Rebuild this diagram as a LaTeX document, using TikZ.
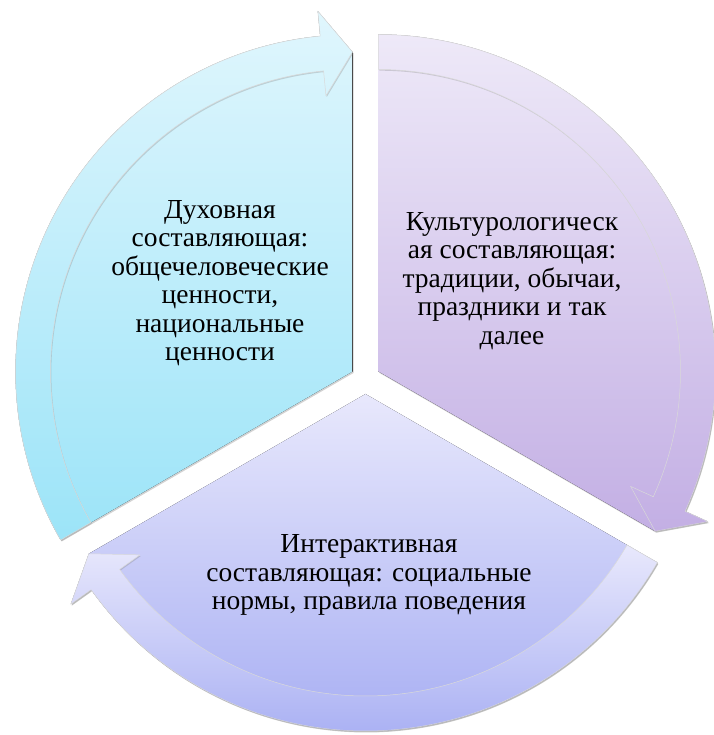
\documentclass[tikz,border=0pt]{standalone}
\usepackage{fontspec}
\setmainfont{Liberation Serif}
\usetikzlibrary{calc, math, shadows}
\definecolor{cyanTop}{HTML}{E0F6FD}
\definecolor{cyanBot}{HTML}{9CE4F8}
\definecolor{lilacTop}{HTML}{EEE9F8}
\definecolor{lilacBot}{HTML}{C3AFE4}
\definecolor{blueTop}{HTML}{E8E8FC}
\definecolor{blueBot}{HTML}{A8AFF3}
\tikzset{
	cycle diagram/.is family,
	cycle diagram/.cd,
	wedge/.style = {
		draw = none,
		drop shadow = {shadow xshift = 1pt, shadow yshift = -1.5pt, opacity = 0.35},
	},
	band/.style = {
		draw = black!15,
		line width = 0.5pt,
		line join = round,
		drop shadow = {shadow xshift = 0.8pt, shadow yshift = -1.2pt, opacity = 0.3},
	},
	segment text/.style = {
		align = center,
		inner sep = 0pt,
		font = \fontsize{27.5}{28.5}\selectfont,
	},
}
\begin{document}
\begin{tikzpicture}[x = 1pt, y = 1pt]
	\def\rin{302}
	\def\rout{337}
	\def\gap{15}
	\def\barb{25}
	\def\head{5.5}
	\useasboundingbox (0, 0) rectangle (713, 735);
	\coordinate (centre) at (365.5, 356);
	\foreach \ang/\seg/\topc/\botc in {150/left/cyanTop/cyanBot, 30/right/lilacTop/lilacBot, 270/bottom/blueTop/blueBot}{
		\tikzmath{
			\sa = \ang + 60;
			\ea = \ang - 60;
			\ba = \ea + \head;
			\rmid = (\rin + \rout) / 2;
		}
		\coordinate (O-\seg) at ($(centre) + (\ang:\gap)$);
		% wedge, filled up to the tip
		\fill[cycle diagram/wedge, top color = \topc, bottom color = \botc]
			(O-\seg) -- ++(\sa:\rout) arc[start angle = \sa, end angle = \ba, radius = \rout]
			-- ($(O-\seg) + (\ba:{\rout + \barb})$) -- ($(O-\seg) + (\ea:\rmid)$) -- cycle;
		% arrow band on the rim
		\draw[cycle diagram/band, top color = \topc, bottom color = \botc]
			($(O-\seg) + (\sa:\rin)$) arc[start angle = \sa, end angle = \ba, radius = \rin]
			-- ($(O-\seg) + (\ba:{\rin - \barb})$) -- ($(O-\seg) + (\ea:\rmid)$)
			-- ($(O-\seg) + (\ba:{\rout + \barb})$) -- ($(O-\seg) + (\ba:\rout)$)
			arc[start angle = \ba, end angle = \sa, radius = \rout] -- cycle;
	}
	\node[cycle diagram/segment text] (spiritual) at (220, 452) {Духовная\\составляющая:\\общечеловеческие\\ценности,\\национальные\\ценности};
	\node[cycle diagram/segment text] (cultural) at (512, 454) {Культурологическ\\ая составляющая:\\традиции, обычаи,\\праздники и так\\далее};
	\node[cycle diagram/segment text] (interactive) at (369, 160) {Интерактивная\\составляющая: социальные\\нормы, правила поведения};
\end{tikzpicture}
\end{document}
